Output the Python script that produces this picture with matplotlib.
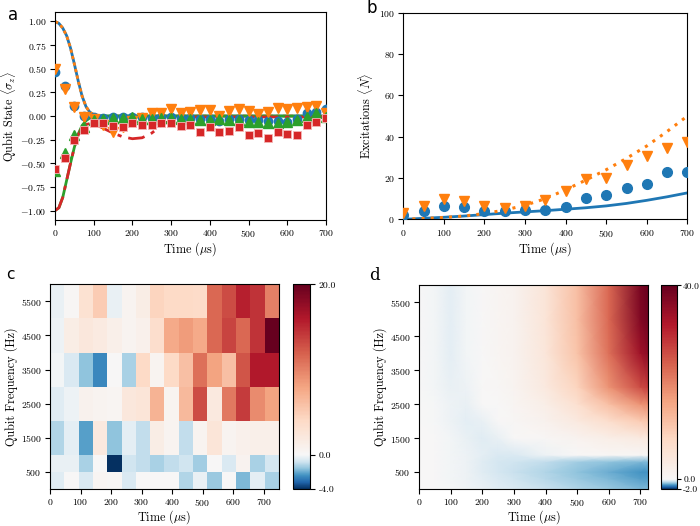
import numpy as np
import matplotlib
import matplotlib.pyplot as plt
from matplotlib.colors import TwoSlopeNorm

plt.rcParams["font.family"] = ["cmr10", "DejaVu Serif"]
plt.rcParams["mathtext.fontset"] = "cm"
plt.rcParams["axes.formatter.use_mathtext"] = True
plt.rcParams["axes.unicode_minus"] = True

# --- panel a: qubit state ---
t_a = [0, 25, 50, 75, 100, 125, 150, 175, 200, 225, 250, 275, 300, 325, 350,
       375, 400, 425, 450, 475, 500, 525, 550, 575, 600, 625, 650, 675, 700]
sz_blue = [0.47, 0.32, 0.11, 0.0, -0.01, -0.02, -0.01, -0.01, -0.01, -0.01, -0.02, -0.01, -0.01, -0.02, -0.02,
           -0.03, -0.03, -0.05, -0.03, -0.03, -0.04, -0.04, -0.05, -0.05, -0.06, -0.03, 0.03, 0.04, 0.07]
sz_orange = [0.50, 0.29, 0.10, -0.01, -0.03, -0.10, -0.17, -0.12, -0.05, -0.02, 0.03, 0.03, 0.07, 0.03, 0.04,
             0.06, 0.06, 0.0, 0.05, 0.07, 0.05, 0.02, 0.04, 0.08, 0.07, 0.08, 0.10, 0.11, 0.03]
sz_green = [-0.58, -0.39, -0.20, -0.12, -0.04, -0.03, -0.02, -0.02, -0.01, -0.03, -0.03, -0.02, -0.02, -0.03, -0.03,
            -0.04, -0.04, -0.03, -0.04, -0.04, -0.06, -0.06, -0.07, -0.07, -0.06, -0.04, -0.01, 0.03, -0.01]
sz_red = [-0.56, -0.44, -0.25, -0.15, -0.07, -0.07, -0.11, -0.12, -0.07, -0.10, -0.10, -0.07, -0.07, -0.11, -0.10,
          -0.17, -0.12, -0.17, -0.16, -0.12, -0.20, -0.18, -0.23, -0.17, -0.19, -0.20, -0.10, -0.06, -0.02]

t_fit = [0, 10, 20, 30, 40, 50, 60, 70, 80, 90, 100, 110, 125, 150, 175, 200, 225, 250, 275, 300,
         325, 350, 400, 500, 600, 700]
fit_up = [1.0, 0.98, 0.93, 0.85, 0.72, 0.55, 0.37, 0.21, 0.10, 0.04, 0.015, 0.005, 0.0, 0.0, 0.0, 0.0, 0.0,
          0.0, 0.0, 0.0, 0.0, 0.0, 0.0, 0.0, 0.0, 0.0]
fit_green = [-1.0, -0.97, -0.86, -0.68, -0.50, -0.33, -0.19, -0.10, -0.05, -0.02, 0.0, 0.0, 0.0, 0.0, 0.0,
             0.0, 0.0, 0.0, 0.0, 0.0, 0.0, 0.0, 0.0, 0.0, 0.0, 0.0]
fit_red = [-1.0, -0.97, -0.86, -0.68, -0.50, -0.33, -0.20, -0.12, -0.09, -0.08, -0.08, -0.10, -0.13, -0.18,
           -0.22, -0.24, -0.23, -0.18, -0.10, -0.04, -0.02, -0.01, -0.01, -0.01, -0.01, -0.01]

# --- panel b: excitations ---
t_b = [0, 50, 100, 150, 200, 250, 300, 350, 400, 450, 500, 550, 600, 650, 700]
n_blue = [2.3, 3.9, 6.3, 6.0, 3.9, 3.9, 4.4, 4.4, 5.8, 10.2, 11.8, 15.0, 16.9, 22.7, 22.7]
n_orange = [3.0, 6.3, 9.8, 9.0, 6.3, 5.5, 6.3, 9.2, 13.9, 19.5, 19.8, 26.5, 30.5, 34.5, 37.3]
n_blue_fit = [0, 0.5, 1.0, 1.6, 2.3, 3.0, 3.6, 4.2, 4.9, 5.6, 6.5, 7.7, 9.2, 10.9, 12.8]
n_orange_fit = [0, 0.4, 0.9, 1.6, 2.8, 4.5, 6.8, 10.0, 14.3, 19.0, 24.0, 29.5, 35.5, 42.5, 50.0]

# --- panel c: measured map (rows bottom -> top) ---
t_edges_c = np.linspace(0, 750, 17)
f_edges_c = [0, 500, 1000, 2000, 3000, 4000, 5000, 6000]
c_vals = [
    [-0.5, 0.1, -0.6, 0.4, 0.2, -0.6, 0.1, 0.1, 0.1, -1.2, -0.3, -1.5, 0.1, -1.8, -0.4, -1.3],
    [-0.3, -0.3, -1.3, 0.0, -4.0, -0.8, -1.0, -1.3, -1.0, -0.8, -1.4, 0.1, -0.6, 0.7, -1.3, -0.7],
    [-1.2, -0.4, -2.2, 2.0, -1.6, -0.4, -1.0, 1.5, 0.5, -1.0, 0.5, 2.5, 0.6, 1.0, 1.2, 1.2],
    [-0.5, -0.2, 0.8, 0.6, 0.4, 2.2, 2.5, 7.0, 0.5, 6.5, 13.0, 2.0, 10.5, 14.0, 9.5, 8.0],
    [-0.1, -0.6, -1.6, -2.6, 0.1, -1.3, 4.0, 0.6, 4.0, 6.0, 11.0, 8.0, 6.0, 12.5, 16.0, 16.0],
    [-0.2, 1.5, 2.2, 1.8, 1.2, 0.6, 1.0, 3.5, 7.5, 8.5, 7.5, 11.5, 13.5, 11.5, 14.5, 20.0],
    [-0.3, 0.3, 3.0, 5.0, -0.3, 0.6, 1.5, 4.5, 4.0, 4.0, 3.8, 11.5, 13.0, 15.5, 14.5, 10.0],
]

# --- panel d: simulated map (rows bottom -> top) ---
t_d = [0, 50, 100, 150, 200, 250, 300, 400, 500, 600, 700, 725]
f_d = [0, 300, 500, 800, 1000, 1500, 2000, 2500, 3000, 4000, 5000, 6000]
d_vals = [
    [0, 0, -0.03, -0.08, -0.15, -0.25, -0.30, -0.45, -0.60, -0.75, -0.90, -0.90],
    [0, 0, -0.05, -0.10, -0.20, -0.30, -0.40, -0.55, -0.75, -0.90, -1.10, -1.10],
    [0, 0, -0.05, -0.10, -0.25, -0.35, -0.45, -0.60, -0.80, -1.00, -1.20, -1.20],
    [0, 0, -0.05, -0.10, -0.25, -0.35, -0.40, -0.50, -0.70, -0.80, -0.90, -0.90],
    [0, 0, -0.05, -0.10, -0.20, -0.30, -0.30, -0.10, 0.20, 0.40, 0.60, 0.60],
    [0, 0, -0.05, -0.15, -0.25, -0.15, 0.00, 0.60, 1.50, 2.50, 3.50, 3.80],
    [0, -0.02, -0.10, -0.20, -0.15, 0.10, 0.40, 1.60, 3.80, 7.00, 10.0, 11.0],
    [0, -0.03, -0.10, -0.15, 0.00, 0.30, 0.70, 2.80, 6.50, 12.0, 18.0, 19.0],
    [0, -0.05, -0.15, -0.10, 0.20, 0.50, 1.00, 3.80, 9.00, 18.0, 26.0, 28.0],
    [0, -0.05, -0.20, -0.05, 0.30, 0.70, 1.40, 4.80, 11.5, 22.0, 34.0, 36.0],
    [0, -0.05, -0.20, -0.05, 0.30, 0.80, 1.50, 5.00, 12.0, 23.0, 37.0, 39.0],
    [0, -0.05, -0.20, -0.05, 0.30, 0.80, 1.50, 5.00, 12.0, 23.0, 38.0, 40.0],
]

TICK_FS = 7
LAB_FS = 8.8
TIME_LABEL = r"Time ($\mu$s)"

fig = plt.figure(figsize=(7.0, 5.26), dpi=100)


def style_axes(ax):
    ax.tick_params(direction="out", length=3.5, width=0.8, labelsize=TICK_FS,
                   top=False, right=False, pad=2.5)
    for s in ax.spines.values():
        s.set_linewidth(0.8)


# === a ===
ax_a = fig.add_axes([0.0786, 0.5817, 0.387, 0.3954])
ax_a.plot(t_fit, fit_up, color="C0", lw=2, zorder=2)
ax_a.plot(t_fit, fit_up, color="C1", lw=2, ls=(0, (1.2, 1.2)), zorder=2)
ax_a.plot(t_fit, fit_green, color="C2", lw=2, zorder=2)
ax_a.plot(t_fit, fit_red, color="C3", lw=2, ls=(0, (6, 2.5, 1.5, 2.5)), zorder=2)
ax_a.plot(t_a, sz_blue, "o", color="C0", ms=6, zorder=3)
ax_a.plot(t_a, sz_orange, "v", color="C1", ms=6.5, zorder=3)
ax_a.plot(t_a, sz_green, "^", color="C2", ms=6.5, zorder=3)
ax_a.plot(t_a, sz_red, "s", color="C3", ms=6, mec="#f4b6b6", mew=0.6, zorder=3)
ax_a.set_xlim(0, 700)
ax_a.set_ylim(-1.1, 1.1)
ax_a.set_yticks([-1.0, -0.75, -0.5, -0.25, 0.0, 0.25, 0.5, 0.75, 1.0])
ax_a.set_xlabel(TIME_LABEL, fontsize=LAB_FS, labelpad=1)
ax_a.set_ylabel(r"Qubit State $\langle\sigma_z\rangle$", fontsize=LAB_FS, labelpad=1)
style_axes(ax_a)

# === b ===
ax_b = fig.add_axes([0.576, 0.583, 0.406, 0.393])
ax_b.plot(t_b, n_blue_fit, color="C0", lw=2, zorder=2)
ax_b.plot(t_b, n_orange_fit, color="C1", lw=2.2, ls=(0, (1, 2)), zorder=2)
ax_b.plot(t_b, n_blue, "o", color="C0", ms=7, zorder=3)
ax_b.plot(t_b, n_orange, "v", color="C1", ms=7.5, zorder=3)
ax_b.set_xlim(0, 700)
ax_b.set_ylim(0, 100)
ax_b.set_yticks([0, 20, 40, 60, 80, 100])
ax_b.set_xlabel(TIME_LABEL, fontsize=LAB_FS, labelpad=1)
ax_b.set_ylabel(r"Excitations $\langle N\rangle$", fontsize=LAB_FS, labelpad=3)
style_axes(ax_b)

# === c ===
ax_c = fig.add_axes([0.0714, 0.0705, 0.327, 0.389])
norm_c = TwoSlopeNorm(vcenter=0.0, vmin=-4.0, vmax=20.0)
mesh_c = ax_c.pcolormesh(t_edges_c, f_edges_c, np.array(c_vals), cmap="RdBu_r", norm=norm_c)
ax_c.set_xlim(0, 750)
ax_c.set_ylim(0, 6000)
ax_c.set_xticks([0, 100, 200, 300, 400, 500, 600, 700])
ax_c.set_yticks([500, 1500, 2500, 3500, 4500, 5500])
ax_c.set_xlabel(TIME_LABEL, fontsize=LAB_FS, labelpad=0)
ax_c.set_ylabel("Qubit Frequency (Hz)", fontsize=LAB_FS, labelpad=2)
style_axes(ax_c)
cax_c = fig.add_axes([0.419, 0.0705, 0.0243, 0.389])
cb_c = fig.colorbar(mesh_c, cax=cax_c)
cb_c.ax.set_yscale("linear")
cb_c.set_ticks([-4.0, 0.0, 20.0])
cb_c.set_ticklabels(["-4.0", "0.0", "20.0"])
cb_c.ax.tick_params(labelsize=TICK_FS, length=3.5, width=0.8, pad=2.5)
cb_c.outline.set_linewidth(0.8)

# === d ===
ax_d = fig.add_axes([0.5986, 0.0705, 0.3276, 0.387])
norm_d = TwoSlopeNorm(vcenter=0.0, vmin=-2.0, vmax=40.0)
mesh_d = ax_d.pcolormesh(t_d, f_d, np.array(d_vals), cmap="RdBu_r", norm=norm_d,
                         shading="gouraud")
ax_d.set_xlim(0, 725)
ax_d.set_ylim(0, 6000)
ax_d.set_xticks([0, 100, 200, 300, 400, 500, 600, 700])
ax_d.set_yticks([500, 1500, 2500, 3500, 4500, 5500])
ax_d.set_xlabel(TIME_LABEL, fontsize=LAB_FS, labelpad=0)
ax_d.set_ylabel("Qubit Frequency (Hz)", fontsize=LAB_FS, labelpad=2)
style_axes(ax_d)
cax_d = fig.add_axes([0.944, 0.0705, 0.023, 0.387])
cb_d = fig.colorbar(mesh_d, cax=cax_d)
cb_d.ax.set_yscale("linear")
cb_d.set_ticks([-2.0, 0.0, 40.0])
cb_d.set_ticklabels(["-2.0", "0.0", "40.0"])
cb_d.ax.tick_params(labelsize=6.8, length=3, width=0.8, pad=1.5)
cb_d.outline.set_linewidth(0.8)

# panel letters
fig.text(0.011, 0.962, "a", fontsize=12, family="DejaVu Sans")
fig.text(0.523, 0.975, "b", fontsize=12, family="DejaVu Sans")
fig.text(0.009, 0.47, "c", fontsize=11, family="DejaVu Sans")
fig.text(0.527, 0.467, "d", fontsize=12, family="DejaVu Serif")

fig.savefig("out.png", dpi=100)
